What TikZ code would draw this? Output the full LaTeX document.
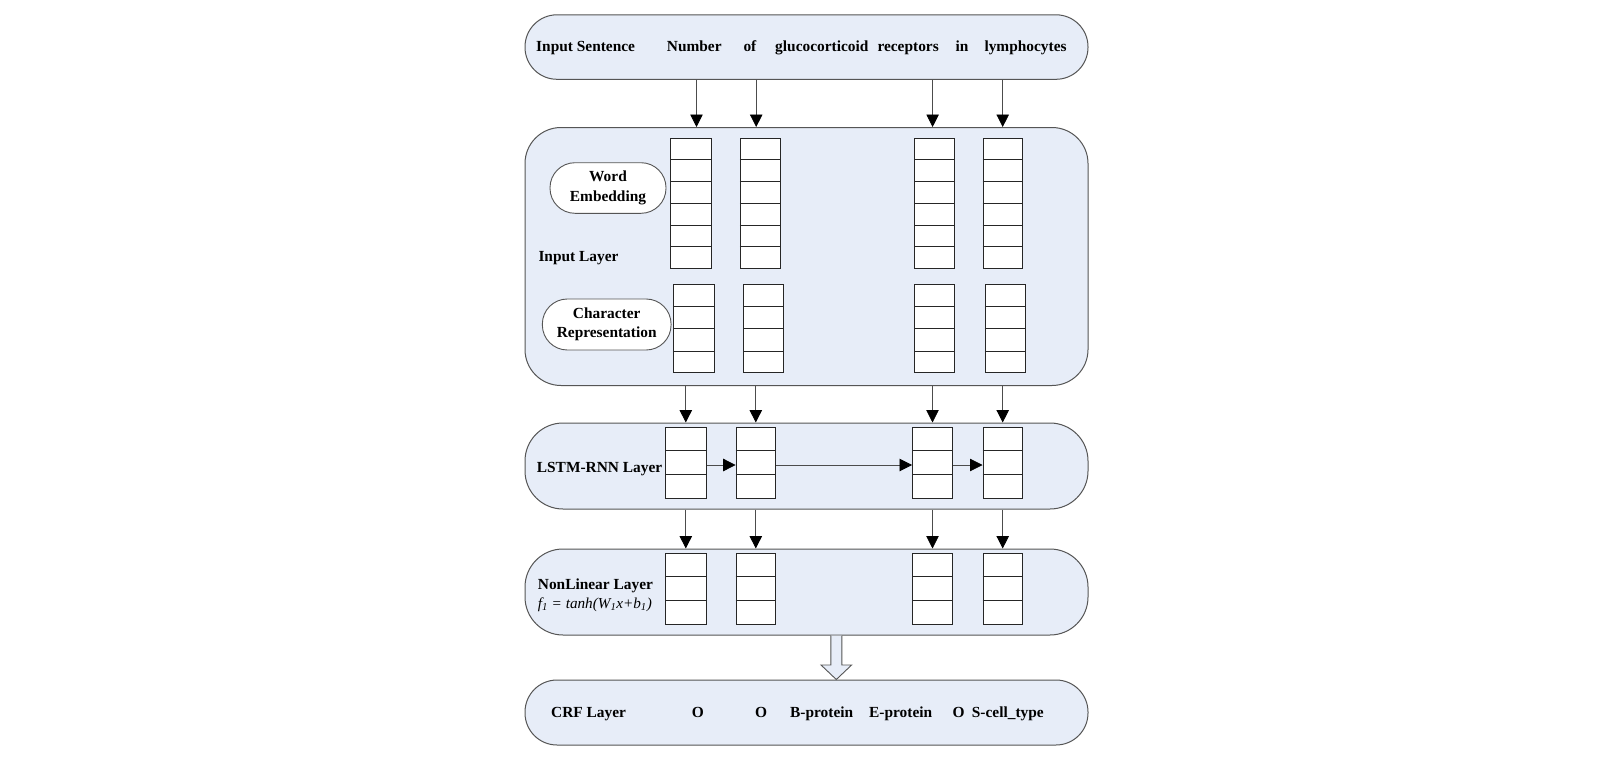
\documentclass[tikz,border=0pt]{standalone}
\usepackage{fontspec}
\setmainfont{Liberation Serif}
\usetikzlibrary{arrows.meta,calc}
\definecolor{layerfill}{RGB}{231,237,248}
\definecolor{layerdraw}{RGB}{85,85,85}
\tikzset{
  layer/.style={draw=layerdraw, line width=1pt, fill=layerfill, rounded corners=#1},
  layer/.default=34pt,
  lbl/.style={font=\fontsize{15.4}{17}\selectfont\bfseries, inner sep=0pt, anchor=base west},
  pill/.style={draw=layerdraw, line width=0.9pt, fill=white, rounded corners=25pt, align=center, inner sep=0pt},
  cellstack/.style={draw=black!85, line width=0.9pt, fill=white, inner sep=0pt},
  flow/.style={draw=black!70, line width=0.8pt, -{Triangle[length=12.5pt,width=12.5pt,fill=black,color=black]}},
}
\newcommand{\mkstack}[6]{%
  \node[cellstack, minimum width=#4pt, minimum height=#5pt] (#1) at (#2,#3) {};
  \foreach \k in {1,...,\numexpr#6-1\relax}{
    \draw[black!85, line width=0.9pt] ($(#1.north west)!\k/#6!(#1.south west)$) -- ($(#1.north east)!\k/#6!(#1.south east)$);
  }%
}
\begin{document}
\begin{tikzpicture}[x=1pt,y=-1pt]
\useasboundingbox (0,0) rectangle (1606,760);
\fill[white] (0,0) rectangle (1606,760);

% layer boxes
\node[layer=32pt, minimum width=563pt, minimum height=64.5pt, anchor=north west] (sent) at (524.5,14.3) {};
\node[layer=36pt, minimum width=563pt, minimum height=258pt, anchor=north west] (inp) at (524.5,127) {};
\node[layer=38pt, minimum width=563pt, minimum height=86pt, anchor=north west] (lstm) at (524.5,422.5) {};
\node[layer=38pt, minimum width=563pt, minimum height=86pt, anchor=north west] (nl) at (524.5,548.5) {};
\node[layer=32pt, minimum width=563pt, minimum height=65pt, anchor=north west] (crf) at (524.5,679.5) {};

% sentence texts
\node[lbl] (t0) at (536,51.7) {Input Sentence};
\node[lbl] (t1) at (666.7,51.7) {Number};
\node[lbl] (t2) at (743.3,51.7) {of};
\node[lbl] (t3) at (775,51.7) {glucocorticoid};
\node[lbl] (t4) at (877.3,51.7) {receptors};
\node[lbl] (t5) at (955.3,51.7) {in};
\node[lbl] (t6) at (984.3,51.7) {lymphocytes};

% input layer
\node[pill, minimum width=116pt, minimum height=50.6pt, font=\fontsize{15.4}{19.4}\selectfont\bfseries] (we) at (608,188) {Word\\Embedding};
\node[pill, minimum width=128.7pt, minimum height=51pt, font=\fontsize{15.4}{18.7}\selectfont\bfseries] (cr) at (606.7,324.5) {Character\\Representation};
\node[lbl] (il) at (538.3,261) {Input Layer};

\mkstack{w1}{690.8}{203.3}{40.3}{130}{6}
\mkstack{w2}{760.4}{203.3}{40}{130}{6}
\mkstack{w3}{934.6}{203.3}{40}{130}{6}
\mkstack{w4}{1002.7}{203.3}{39.5}{130}{6}

\mkstack{c1}{693.6}{328.9}{40.7}{88}{4}
\mkstack{c2}{763.5}{328.9}{40}{88}{4}
\mkstack{c3}{934.6}{328.9}{40}{88}{4}
\mkstack{c4}{1005.2}{328.9}{40}{88}{4}

% LSTM layer
\node[lbl] (ll) at (536.7,472.7) {LSTM-RNN Layer};
\mkstack{l1}{685.8}{462.5}{40.5}{71}{3}
\mkstack{l2}{755.8}{462.5}{39.5}{71}{3}
\mkstack{l3}{932.5}{462.5}{40}{71}{3}
\mkstack{l4}{1002.7}{462.5}{39.5}{71}{3}

% NonLinear layer
\node[lbl] (nll) at (537.7,589.3) {NonLinear Layer};
\node[font=\fontsize{15.2}{17}\selectfont\itshape, inner sep=0pt, anchor=base west] (nlf) at (537.7,608.3) {f\textsubscript{1} = tanh(W\textsubscript{1}x+b\textsubscript{1})};
\mkstack{n1}{686.2}{588.8}{41}{71}{3}
\mkstack{n2}{755.8}{588.8}{39.5}{71}{3}
\mkstack{n3}{932.5}{588.8}{40}{71}{3}
\mkstack{n4}{1002.7}{588.8}{39.5}{71}{3}

% CRF layer
\node[lbl] (cl) at (551,717.3) {CRF Layer};
\node[lbl] (o1) at (691.7,717.3) {O};
\node[lbl] (o2) at (755,717.3) {O};
\node[lbl] (bp) at (790,717.3) {B-protein};
\node[lbl] (ep) at (869,717.3) {E-protein};
\node[lbl] (o3) at (952.3,717.3) {O};
\node[lbl] (sc) at (971.7,717.3) {S-cell\_type};

% arrows: sentence -> input layer
\foreach \xx in {696.5,756.2,932.6,1002.7}{
  \draw[flow] (sent.south -| \xx,0) -- (inp.north -| \xx,0);
}

% arrows: input -> lstm
\draw[flow] (inp.south -| l1.north) -- (lstm.north -| l1.north);
\draw[flow] (inp.south -| l2.north) -- (lstm.north -| l2.north);
\draw[flow] (inp.south -| l3.north) -- (lstm.north -| l3.north);
\draw[flow] (inp.south -| l4.north) -- (lstm.north -| l4.north);

% recurrent arrows
\draw[flow] ($(l1.east)+(0,2.5)$) -- ($(l2.west)+(0,2.5)$);
\draw[flow] ($(l2.east)+(0,2.5)$) -- ($(l3.west)+(0,2.5)$);
\draw[flow] ($(l3.east)+(0,2.5)$) -- ($(l4.west)+(0,2.5)$);

% arrows: lstm -> nonlinear
\draw[flow] (lstm.south -| l1.south) -- (nl.north -| l1.south);
\draw[flow] (lstm.south -| l2.south) -- (nl.north -| l2.south);
\draw[flow] (lstm.south -| l3.south) -- (nl.north -| l3.south);
\draw[flow] (lstm.south -| l4.south) -- (nl.north -| l4.south);

% block arrow nonlinear -> crf
\coordinate (bt) at (crf.north -| 836.3,0);
\draw[draw=layerdraw, line width=0.9pt, fill=layerfill]
  (nl.south -| 830.8,0) -- (830.8,665) -- (821,665) -- (bt) -- (851.6,665) -- (841.8,665) -- (nl.south -| 841.8,0);
\end{tikzpicture}
\end{document}
